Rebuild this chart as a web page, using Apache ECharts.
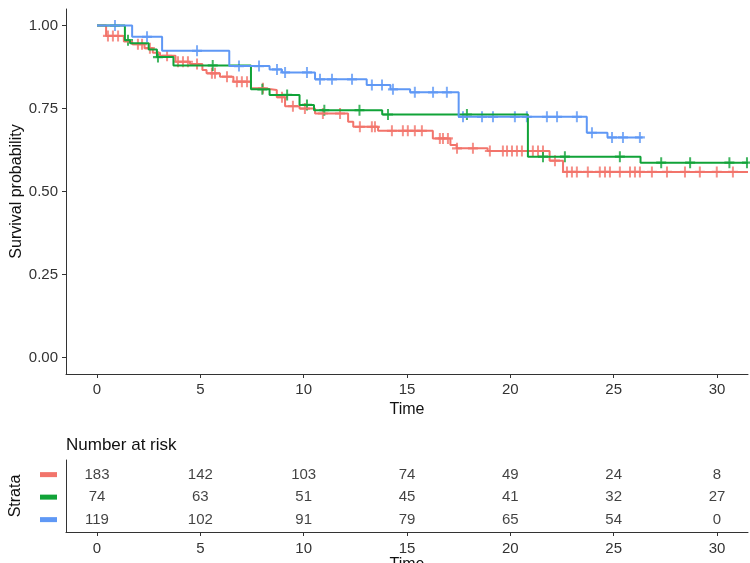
<!DOCTYPE html>
<html>
<head>
<meta charset="utf-8">
<script src="https://cdn.jsdelivr.net/npm/echarts@6/dist/echarts.min.js"></script>
<style>
  html, body { margin: 0; padding: 0; background: #fff; }
  #chart { width: 750px; height: 563px; }
</style>
</head>
<body>
<div id="chart"></div>
<script>
// step curves: [time, survival]
var redSteps = [[0,1],[0.44,0.969],[1.3,0.952],[1.7,0.944],[2.3,0.932],[2.7,0.918],[3.05,0.909],
  [3.8,0.891],[4.5,0.884],[5.1,0.866],[5.3,0.856],[5.95,0.846],[6.6,0.831],[7.45,0.811],[8.05,0.806],
  [8.7,0.784],[9.1,0.757],[9.8,0.75],[10.55,0.735],[12.15,0.71],[12.4,0.695],[13.6,0.683],[16.25,0.66],
  [17.1,0.64],[17.4,0.63],[18.9,0.622],[21.9,0.593],[22.55,0.559],[31.5,0.559]];
var greenSteps = [[0,1],[1.35,0.956],[1.6,0.947],[2.5,0.928],[2.9,0.905],[3.7,0.88],[7.45,0.808],
  [8.35,0.791],[9.8,0.761],[10.5,0.745],[13.8,0.732],[20.85,0.605],[26.3,0.587],[31.5,0.587]];
var blueSteps = [[0,1],[1.7,0.966],[3.15,0.924],[6.4,0.878],[8.35,0.868],[8.95,0.859],[10.55,0.838],
  [13.05,0.821],[14.2,0.808],[15.15,0.799],[17.5,0.725],[23.7,0.677],[24.7,0.663],[26.4,0.663]];

// censoring times
var redCensor = [0.53,0.77,1.02,1.98,2.18,2.56,3.39,3.92,4.16,4.4,4.84,5.56,5.71,6.29,6.77,7.01,7.26,
  8.03,8.95,9.48,10.06,10.93,11.76,12.72,13.3,13.45,14.27,14.8,15.04,15.38,15.72,16.59,16.74,16.98,
  17.42,18.19,19.01,19.64,19.84,20.08,20.32,20.56,21.09,21.34,21.58,22.16,22.74,22.98,23.22,23.75,
  24.33,24.58,24.82,25.3,25.79,26.03,26.27,26.85,27.58,28.45,29.17,29.99,30.77];
var greenCensor = [1.5,2.95,5.6,8.0,9.2,10.16,11.0,12.7,14.08,17.9,21.58,22.64,25.3,27.3,28.7,30.6,31.45];
var blueCensor = [0.87,2.42,4.84,6.87,7.84,8.71,9.1,10.16,10.79,11.37,12.34,13.3,13.79,14.32,15.38,
  16.26,16.93,17.71,18.63,19.16,20.22,20.8,21.77,22.26,23.22,23.95,24.92,25.45,26.27];

// risk table
var riskTimes = [0,5,10,15,20,25,30];
var riskRed = [183,142,103,74,49,24,8];
var riskGreen = [74,63,51,45,41,32,27];
var riskBlue = [119,102,91,79,65,54,0];

var xTicks = [0,5,10,15,20,25,30];
var yTicks = [0,0.25,0.5,0.75,1];

var RED = '#F2746B', GREEN = '#11A338', BLUE = '#5F98F5';
var FONT = 'Liberation Sans';
var plus = 'path://M4,0h2v4h4v2h-4v4h-2v-4h-4v-2h4z';

function stepAt(steps, t) {
  var s = steps[0][1];
  for (var i = 0; i < steps.length; i++) {
    if (steps[i][0] <= t) s = steps[i][1];
  }
  return s;
}
function censorData(steps, times) {
  return times.map(function (t) { return [t, stepAt(steps, t)]; });
}
function riskData(vals, row) {
  return vals.map(function (v, i) { return [riskTimes[i], row, v]; });
}

function curve(name, steps, color) {
  return {
    name: name, type: 'line', step: 'end', data: steps, symbol: 'none',
    xAxisIndex: 0, yAxisIndex: 0,
    lineStyle: { color: color, width: 2 }
  };
}
function censors(name, steps, times, color) {
  return {
    name: name, type: 'scatter', data: censorData(steps, times),
    symbol: plus, symbolSize: [10, 11],
    xAxisIndex: 0, yAxisIndex: 0,
    itemStyle: { color: color }
  };
}
function riskRow(vals, row) {
  return {
    type: 'scatter', data: riskData(vals, row), symbolSize: 1,
    xAxisIndex: 1, yAxisIndex: 1,
    itemStyle: { color: 'rgba(0,0,0,0)' },
    label: {
      show: true, position: 'inside', color: '#111', fontFamily: FONT, fontSize: 15,
      formatter: function (p) { return p.value[2]; }
    }
  };
}

var axisText = { color: '#333', fontFamily: FONT, fontSize: 15 };
var nameText = { color: '#111', fontFamily: FONT, fontSize: 16 };
var line = { show: true, onZero: false, lineStyle: { color: '#333', width: 1 } };

var chart = echarts.init(document.getElementById('chart'));
chart.setOption({
  animation: false,
  backgroundColor: '#fff',
  title: {
    text: 'Number at risk', left: 61, top: 432,
    textStyle: { fontFamily: FONT, fontSize: 17, fontWeight: 'normal', color: '#111' }
  },
  grid: [
    { left: 66, right: 2, top: 9, height: 365, outerBoundsMode: 'none' },
    { left: 66, right: 2, top: 460, height: 72, outerBoundsMode: 'none' }
  ],
  xAxis: [
    {
      type: 'value', gridIndex: 0, min: -1.5, max: 31.5,
      name: 'Time', nameLocation: 'middle', nameGap: 27, nameTextStyle: nameText,
      axisLine: line,
      axisTick: { show: true, length: 4, customValues: xTicks, lineStyle: { color: '#333' } },
      axisLabel: Object.assign({ customValues: xTicks, margin: 8 }, axisText),
      splitLine: { show: false }
    },
    {
      type: 'value', gridIndex: 1, min: -1.5, max: 31.5,
      name: 'Time', nameLocation: 'middle', nameGap: 25, nameTextStyle: nameText,
      axisLine: line,
      axisTick: { show: true, length: 4, customValues: xTicks, lineStyle: { color: '#333' } },
      axisLabel: Object.assign({ customValues: xTicks, margin: 9 }, axisText),
      splitLine: { show: false }
    }
  ],
  yAxis: [
    {
      type: 'value', gridIndex: 0, min: -0.05, max: 1.05,
      name: 'Survival probability', nameLocation: 'middle', nameRotate: 90, nameGap: 41,
      nameMoveOverlap: false,
      nameTextStyle: nameText,
      axisLine: line,
      axisTick: { show: true, length: 4, customValues: yTicks, lineStyle: { color: '#333' } },
      axisLabel: Object.assign({
        customValues: yTicks, margin: 8,
        formatter: function (v) { return v.toFixed(2); }
      }, axisText),
      splitLine: { show: false }
    },
    {
      type: 'value', gridIndex: 1, min: -0.65, max: 2.55, inverse: true,
      name: 'Strata', nameLocation: 'middle', nameRotate: 90, nameGap: 42,
      nameMoveOverlap: false,
      nameTextStyle: nameText,
      axisLine: line,
      axisTick: { show: false },
      axisLabel: {
        customValues: [0, 1, 2], margin: 9,
        formatter: function (v) { return '{s' + v + '| }'; },
        rich: {
          s0: { backgroundColor: RED, width: 17, height: 5, lineHeight: 5, fontSize: 1 },
          s1: { backgroundColor: GREEN, width: 17, height: 5, lineHeight: 5, fontSize: 1 },
          s2: { backgroundColor: BLUE, width: 17, height: 5, lineHeight: 5, fontSize: 1 }
        }
      },
      splitLine: { show: false }
    }
  ],
  series: [
    curve('red', redSteps, RED),
    curve('green', greenSteps, GREEN),
    curve('blue', blueSteps, BLUE),
    censors('red', redSteps, redCensor, RED),
    censors('green', greenSteps, greenCensor, GREEN),
    censors('blue', blueSteps, blueCensor, BLUE),
    riskRow(riskRed, 0),
    riskRow(riskGreen, 1),
    riskRow(riskBlue, 2)
  ]
});
</script>
</body>
</html>
